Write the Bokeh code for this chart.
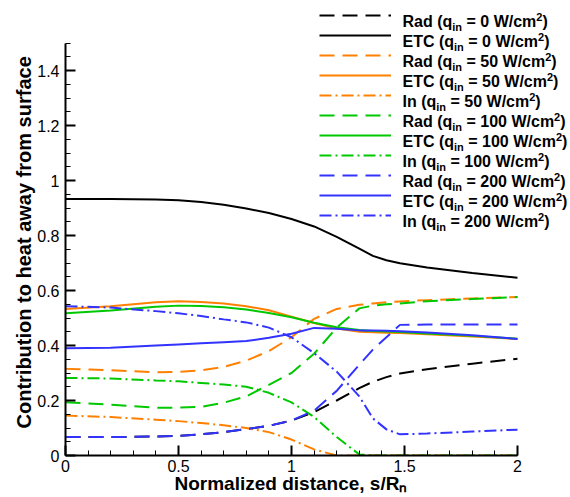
from bokeh.plotting import figure
from bokeh.models import (FixedTicker, Legend, LegendItem, Range1d, CustomJSTickFormatter,
                          Label, Title)
from bokeh.embed import file_html
from bokeh.resources import INLINE

# ---- data ----
s = [0, 0.2, 0.4, 0.5, 0.6, 0.7, 0.8, 0.9, 1.0, 1.1, 1.2, 1.3, 1.36, 1.42, 1.48, 1.6, 1.8, 2.0]

rad_0 = [0.067, 0.067, 0.069, 0.071, 0.077, 0.085, 0.096, 0.108, 0.127, 0.158, 0.200, 0.245, 0.268, 0.285, 0.298, 0.314, 0.334, 0.352]
etc_0 = [0.933, 0.933, 0.931, 0.928, 0.922, 0.912, 0.898, 0.882, 0.860, 0.833, 0.795, 0.752, 0.726, 0.710, 0.699, 0.684, 0.664, 0.646]

rad_50 = [0.315, 0.310, 0.303, 0.304, 0.310, 0.322, 0.345, 0.380, 0.430, 0.497, 0.533, 0.548, 0.553, 0.557, 0.560, 0.565, 0.571, 0.576]
etc_50 = [0.533, 0.543, 0.557, 0.561, 0.558, 0.553, 0.543, 0.528, 0.505, 0.482, 0.462, 0.450, 0.448, 0.446, 0.445, 0.441, 0.433, 0.424]
in_50 = [0.145, 0.140, 0.130, 0.125, 0.118, 0.110, 0.100, 0.085, 0.058, 0.022, 0.0, 0.0, 0.0, 0.0, 0.0, 0.0, 0.0, 0.0]

rad_100 = [0.194, 0.185, 0.174, 0.174, 0.177, 0.192, 0.215, 0.257, 0.300, 0.370, 0.465, 0.535, 0.545, 0.550, 0.553, 0.561, 0.569, 0.576]
etc_100 = [0.517, 0.527, 0.541, 0.545, 0.544, 0.539, 0.531, 0.518, 0.503, 0.483, 0.466, 0.456, 0.453, 0.451, 0.449, 0.444, 0.435, 0.425]
in_100 = [0.282, 0.280, 0.273, 0.270, 0.264, 0.258, 0.250, 0.228, 0.193, 0.140, 0.067, 0.004, 0.0, 0.0, 0.0, 0.0, 0.0, 0.0]

rad_200 = [0.067, 0.067, 0.069, 0.071, 0.077, 0.085, 0.096, 0.108, 0.127, 0.163, 0.235, 0.330, 0.385, 0.430, 0.475, 0.476, 0.476, 0.476]
etc_200 = [0.390, 0.392, 0.400, 0.404, 0.408, 0.412, 0.416, 0.428, 0.443, 0.464, 0.461, 0.455, 0.455, 0.454, 0.452, 0.447, 0.437, 0.424]
in_200 = [0.543, 0.538, 0.525, 0.517, 0.507, 0.495, 0.484, 0.465, 0.430, 0.372, 0.305, 0.215, 0.135, 0.095, 0.077, 0.080, 0.087, 0.094]

x_ticks = [0, 0.5, 1, 1.5, 2]
x_minor = [round(0.1 * i, 2) for i in range(21)]
y_ticks = [0, 0.2, 0.4, 0.6, 0.8, 1, 1.2, 1.4]
y_minor = [round(0.05 * i, 2) for i in range(31)]
x_axis_span = (0, 2)
y_axis_span = (0, 1.5)

x_title = "Normalized distance, s/R\u2099"
y_title = "Contribution to heat away from surface"

legend_kind = ["Rad", "ETC", "Rad", "ETC", "In", "Rad", "ETC", "In", "Rad", "ETC", "In"]
legend_q = ["0", "0", "50", "50", "50", "100", "100", "100", "200", "200", "200"]

BLACK, ORANGE, GREEN, BLUE = "#000000", "#FF8000", "#00C800", "#3333FF"
DASH = "15 8"
DASHDOT = "12 4 2 4"

series = [
    (rad_0, BLACK, DASH),
    (etc_0, BLACK, "solid"),
    (rad_50, ORANGE, DASH),
    (etc_50, ORANGE, "solid"),
    (in_50, ORANGE, DASHDOT),
    (rad_100, GREEN, DASH),
    (etc_100, GREEN, "solid"),
    (in_100, GREEN, DASHDOT),
    (rad_200, BLUE, DASH),
    (etc_200, BLUE, "solid"),
    (in_200, BLUE, DASHDOT),
]

FONT = "Liberation Sans"

# layout: the frame spans the whole area right of / above the axes, so the legend
# (which lies above and right of the axes' extent) is not clipped.
W, H = 570, 497
LEFT, BOTTOM = 65, 42
PX_PER_X = 226.0
PX_PER_Y = 275.0
x_end = (W - LEFT) / PX_PER_X
y_end = (H - BOTTOM) / PX_PER_Y

p = figure(width=W, height=H, output_backend="svg", toolbar_location=None,
           x_range=Range1d(0, x_end), y_range=Range1d(0, y_end),
           min_border_left=LEFT, min_border_right=0, min_border_top=0, min_border_bottom=BOTTOM)
p.grid.visible = False
p.outline_line_color = None
p.background_fill_color = "white"

items = []
for ys, col, dash in series:
    r = p.line(s, ys, line_color=col, line_width=2, line_dash=dash)
    items.append(LegendItem(label=" ", renderers=[r]))

ROW = 20
legend = Legend(items=items, location=(254, 230), padding=0, margin=0, spacing=0,
                glyph_width=72, glyph_height=ROW, label_height=ROW, label_width=1,
                label_standoff=0, border_line_alpha=0, background_fill_alpha=0,
                label_text_font_size="1px", label_text_alpha=0)
p.add_layout(legend, "center")

# legend texts with real sub/superscripts (Liberation Sans Bold = Arial Bold metrics)
ADV = {" ": 278, "(": 333, ")": 333, "=": 584, "/": 278, "C": 722, "E": 667, "I": 278,
       "R": 722, "T": 611, "W": 944, "a": 556, "c": 556, "d": 611, "m": 889, "n": 611,
       "q": 611, "i": 278}
for dgt in "0123456789":
    ADV[dgt] = 556


def width(txt, fs):
    return sum(ADV[c] for c in txt) * fs / 1000.0


FS, FS_SMALL = 16, 11
text_x0 = 402 - LEFT          # screen x of the legend text, relative to frame left
top_row_baseline = 15 + 6     # baseline of first row, from the picture top
for k, (kind, q) in enumerate(zip(legend_kind, legend_q)):
    base_y = (H - BOTTOM) - (top_row_baseline + ROW * k)
    parts = [
        (kind + " (q", FS, 0),
        ("in", FS_SMALL, -5),
        (" = " + q + " W/cm", FS, 0),
        ("2", FS_SMALL, 5),
        (")", FS, 0),
    ]
    x = text_x0
    for txt, fs, dy in parts:
        core = txt.lstrip(" ")
        lead = width(txt[: len(txt) - len(core)], fs)
        p.add_layout(Label(x=x + lead, y=base_y + dy, x_units="screen", y_units="screen",
                           text=core, text_font=FONT, text_font_style="bold",
                           text_font_size=f"{fs}px", text_color="black",
                           text_align="left", text_baseline="alphabetic"))
        x += width(txt, fs)

fmt = CustomJSTickFormatter(code="return String(tick);")
for ax, ticks, minor, span in ((p.xaxis[0], x_ticks, x_minor, x_axis_span),
                               (p.yaxis[0], y_ticks, y_minor, y_axis_span)):
    ax.ticker = FixedTicker(ticks=ticks, minor_ticks=minor)
    ax.bounds = span
    ax.formatter = fmt
    ax.axis_line_width = 2
    ax.axis_line_color = "black"
    ax.major_tick_in = 10
    ax.major_tick_out = 0
    ax.minor_tick_in = 5
    ax.minor_tick_out = 0
    ax.major_tick_line_width = 2
    ax.minor_tick_line_width = 1
    ax.major_label_text_font = FONT
    ax.major_label_text_font_size = "16px"
    ax.major_label_text_color = "black"

p.xaxis.major_label_standoff = 4
p.yaxis.major_label_standoff = 6

# axis titles, placed to start where the reference's axis titles start
xt = Title(text=x_title, align="left", offset=109, standoff=-7,
           text_font=FONT, text_font_style="bold", text_font_size="19px", text_color="black")
p.add_layout(xt, "below")
yt = Title(text=y_title, align="left", offset=27, standoff=0,
           text_font=FONT, text_font_style="bold", text_font_size="20px", text_color="black")
p.add_layout(yt, "left")

open("out.html", "w").write(file_html(p, INLINE))
